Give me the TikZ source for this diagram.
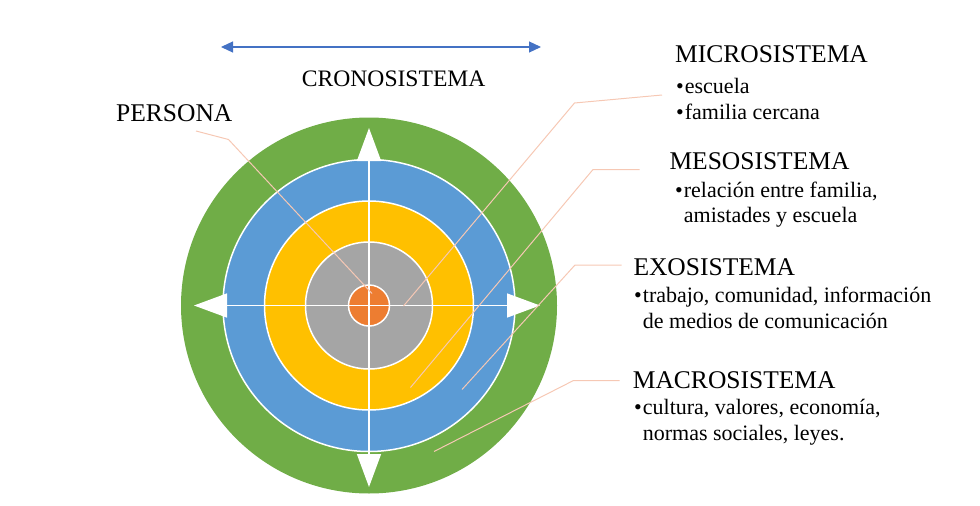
\documentclass[tikz,border=0pt]{standalone}
\usepackage{fontspec}
\setmainfont{Liberation Serif}
\usetikzlibrary{arrows.meta}

\definecolor{ringgreen}{HTML}{70AD47}
\definecolor{ringblue}{HTML}{5B9BD5}
\definecolor{ringyellow}{HTML}{FFC000}
\definecolor{ringgray}{HTML}{A5A5A5}
\definecolor{ringorange}{HTML}{ED7D31}
\definecolor{chronoblue}{HTML}{4472C4}
\definecolor{calloutpink}{RGB}{246,200,180}

\newcommand{\itm}{\textbullet\hspace{1pt}}

\tikzset{
  ring/.style={draw=white,line width=1.5pt},
  crossline/.style={white,line width=1.5pt,{Triangle[length=33pt,width=24pt]}-{Triangle[length=33pt,width=24pt]}},
  callout/.style={draw=calloutpink,line width=1pt},
  title/.style={anchor=base west,inner sep=0pt,font=\fontsize{25.5}{30}\selectfont},
  items/.style={anchor=base west,inner sep=0pt,align=left,font=\fontsize{22}{25.5}\selectfont},
}

\begin{document}
\begin{tikzpicture}[x=1pt,y=-1pt]
  \useasboundingbox (0,0) rectangle (980,506);

  % rings
  \coordinate (c) at (369,305.5);
  \fill[ringgreen] (c) circle (188pt);
  \filldraw[ring,fill=ringblue] (c) circle (146pt);
  \filldraw[ring,fill=ringyellow] (c) circle (104.5pt);
  \filldraw[ring,fill=ringgray] (c) circle (63.5pt);
  \filldraw[ring,fill=ringorange] (c) circle (20.5pt);

  % cross of arrows
  \coordinate (w) at (194,305.5);
  \coordinate (e) at (540,305.5);
  \coordinate (n) at (369,128);
  \coordinate (s) at (369,487);
  \draw[crossline] (w) -- (e);
  \draw[crossline] (n) -- (s);

  % chronosystem
  \coordinate (cl) at (221,47);
  \coordinate (cr) at (541,47);
  \draw[chronoblue,line width=1.2pt,{Triangle[length=12pt,width=11pt]}-{Triangle[length=12pt,width=11pt]}] (cl) -- (cr);
  \node[title,font=\fontsize{23.6}{28}\selectfont] (crono) at (301.7,86.7) {CRONOSISTEMA};

  % labels (items nodes sit on the baseline of their last line)
  \node[title] (persona) at (116,121.7) {PERSONA};
  \node[title] (micro) at (675,62) {MICROSISTEMA};
  \node[items] (microitems) at (676,119.3) {\itm escuela\\\itm familia cercana};
  \node[title] (meso) at (669.3,169.3) {MESOSISTEMA};
  \node[items] (mesoitems) at (675,222.7) {\itm relación entre familia,\\\phantom{\itm}amistades y escuela};
  \node[title] (exo) at (633.3,275) {EXOSISTEMA};
  \node[items] (exoitems) at (634,328.3) {\itm trabajo, comunidad, información\\\phantom{\itm}de medios de comunicación};
  \node[title] (macro) at (632.7,388.3) {MACROSISTEMA};
  \node[items] (macroitems) at (634,440) {\itm cultura, valores, economía,\\\phantom{\itm}normas sociales, leyes.};

  % callouts
  \coordinate (persona-a) at (196,131);
  \coordinate (persona-b) at (228.5,139.5);
  \coordinate (persona-c) at (372,293.5);
  \coordinate (micro-a) at (662,95);
  \coordinate (micro-b) at (574.5,103);
  \coordinate (micro-c) at (403.5,306);
  \coordinate (meso-a) at (639.5,169.5);
  \coordinate (meso-b) at (593,169.5);
  \coordinate (meso-c) at (410.5,387.5);
  \coordinate (exo-a) at (621.5,265);
  \coordinate (exo-b) at (575,265);
  \coordinate (exo-c) at (462,389.5);
  \coordinate (macro-a) at (619.5,380.5);
  \coordinate (macro-b) at (573.5,380.5);
  \coordinate (macro-c) at (434,451.5);
  \draw[callout] (persona-a) -- (persona-b) -- (persona-c);
  \draw[callout] (micro-a) -- (micro-b) -- (micro-c);
  \draw[callout] (meso-a) -- (meso-b) -- (meso-c);
  \draw[callout] (exo-a) -- (exo-b) -- (exo-c);
  \draw[callout] (macro-a) -- (macro-b) -- (macro-c);
\end{tikzpicture}
\end{document}
